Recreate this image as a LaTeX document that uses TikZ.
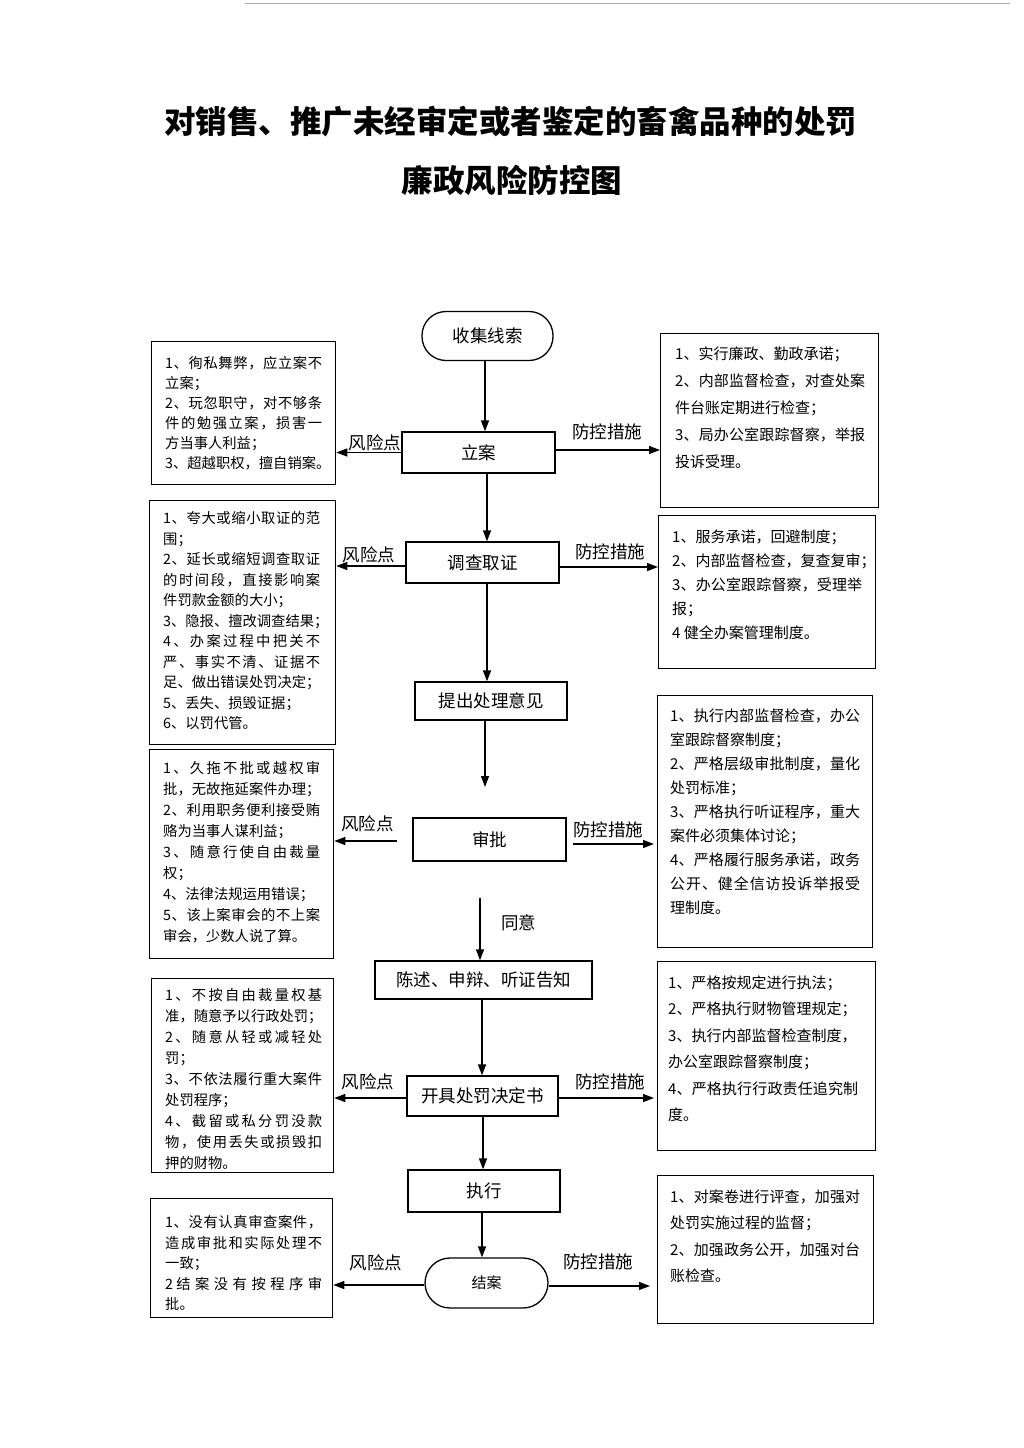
\documentclass[tikz,border=0pt]{standalone}
\usepackage{fontspec}
\setmainfont{Noto Sans CJK SC}
\usetikzlibrary{arrows.meta}
\newcount\cjkcnt
\cjkcnt="4E00
\loop
  \XeTeXcharclass\cjkcnt=1
  \advance\cjkcnt by 1
\ifnum\cjkcnt<"A000 \repeat
\XeTeXcharclass"3001=3
\XeTeXcharclass"3002=3
\XeTeXcharclass"FF0C=3
\XeTeXcharclass"FF1B=3
\XeTeXcharclass"FF1A=3
\XeTeXinterchartoks 1 1 = {\hskip 0pt plus 1fil}
\XeTeXinterchartoks 1 3 = {\hskip 0pt plus 1fil}
\XeTeXinterchartoks 3 1 = {\hskip 0pt plus 1fil}
\XeTeXinterchartoks 3 3 = {\hskip 0pt plus 1fil}
\XeTeXinterchartoks 0 1 = {\hskip 0pt plus 1fil}
\XeTeXinterchartoks 0 3 = {\hskip 0pt plus 1fil}
\newcommand\jlft[1]{\makebox[157pt][s]{\XeTeXinterchartokenstate=1 #1}}
\newcommand\jrgt[1]{\makebox[190pt][s]{\XeTeXinterchartokenstate=1 #1}}
\tikzset{
  box/.style={draw, line width=1.3pt, inner sep=0pt, anchor=north west},
  ltext/.style={anchor=north west, inner sep=0pt, align=left, font=\fontsize{14.3}{#1}\selectfont},
  rtext/.style={anchor=north west, inner sep=0pt, align=left, font=\fontsize{15}{#1}\selectfont},
  flow/.style={draw, line width=1.3pt, inner sep=0pt, font=\fontsize{17.5}{20}\selectfont},
  arr/.style={line width=1.3pt, -{Triangle[length=11pt,width=8pt]}},
  lbl/.style={inner sep=0pt, font=\fontsize{17.5}{20}\selectfont},
  ttl/.style={inner sep=0pt, font=\fontsize{31.5}{34}\selectfont\bfseries}
}
\begin{document}
\begin{tikzpicture}[x=1pt,y=-1pt]
\useasboundingbox[fill=white] (0,0) rectangle (1024,1448);
\draw[gray!70, line width=1pt] (245,3) -- (1010,3);

% title
\node[ttl] (t1) at (510.5,122) {对销售、推广未经审定或者鉴定的畜禽品种的处罚};
\node[ttl] (t2) at (512,180) {廉政风险防控图};

% flow nodes
\node[flow, minimum width=131, minimum height=49, rounded corners=24pt] (sj) at (487.5,336) {收集线索};
\node[flow, minimum width=153, minimum height=41] (la) at (478.5,452.5) {立案};
\node[flow, minimum width=153, minimum height=41] (dc) at (482.5,562.5) {调查取证};
\node[flow, minimum width=152, minimum height=38] (tc) at (491,701) {提出处理意见};
\node[flow, minimum width=153, minimum height=43] (sp) at (489.5,839.5) {审批};
\node[flow, minimum width=217, minimum height=38] (cs) at (483.5,980) {陈述、申辩、听证告知};
\node[flow, minimum width=151, minimum height=40] (kj) at (482.5,1096) {开具处罚决定书};
\node[flow, minimum width=152, minimum height=42] (zx) at (484,1191) {执行};
\node[flow, minimum width=123, minimum height=50, rounded corners=25pt, font=\fontsize{15}{18}\selectfont] (ja) at (486.5,1283) {结案};

% side boxes
\node[box, minimum width=184, minimum height=143] (lb1) at (151,341) {};
\node[box, minimum width=218, minimum height=174] (rb1) at (660,333) {};
\node[box, minimum width=186, minimum height=244] (lb2) at (149,500) {};
\node[box, minimum width=217, minimum height=153] (rb2) at (658,515) {};
\node[box, minimum width=184, minimum height=209] (lb3) at (149,749) {};
\node[box, minimum width=215, minimum height=252] (rb3) at (657,695) {};
\node[box, minimum width=182, minimum height=194] (lb4) at (151,978) {};
\node[box, minimum width=218, minimum height=189] (rb4) at (657,961) {};
\node[box, minimum width=182, minimum height=119] (lb5) at (150,1198) {};
\node[box, minimum width=216, minimum height=148] (rb5) at (657,1175) {};

% box texts
\node[ltext=20] (lb1t) at (165,356.4) {\jlft{1、徇私舞弊，应立案不}\\立案；\\\jlft{2、玩忽职守，对不够条}\\\jlft{件的勉强立案，损害一}\\方当事人利益；\\3、超越职权，擅自销案。};
\node[rtext=27] (rb1t) at (675,346.1) {1、实行廉政、勤政承诺；\\\jrgt{2、内部监督检查，对查处案}\\件台账定期进行检查；\\\jrgt{3、局办公室跟踪督察，举报}\\投诉受理。};
\node[ltext=20.5] (lb2t) at (163,511.4) {\jlft{1、夸大或缩小取证的范}\\围；\\\jlft{2、延长或缩短调查取证}\\\jlft{的时间段，直接影响案}\\件罚款金额的大小；\\3、隐报、擅改调查结果；\\\jlft{4、办案过程中把关不}\\\jlft{严、事实不清、证据不}\\足、做出错误处罚决定；\\5、丢失、损毁证据；\\6、以罚代管。};
\node[rtext=24] (rb2t) at (672,530.1) {1、服务承诺，回避制度；\\2、内部监督检查，复查复审；\\\jrgt{3、办公室跟踪督察，受理举}\\报；\\4 健全办案管理制度。};
\node[ltext=21] (lb3t) at (163,761.4) {\jlft{1、久拖不批或越权审}\\批，无故拖延案件办理；\\\jlft{2、利用职务便利接受贿}\\赂为当事人谋利益；\\\jlft{3、随意行使自由裁量}\\权；\\4、法律法规运用错误；\\\jlft{5、该上案审会的不上案}\\审会，少数人说了算。};
\node[rtext=24] (rb3t) at (670,708.1) {\jrgt{1、执行内部监督检查，办公}\\室跟踪督察制度；\\\jrgt{2、严格层级审批制度，量化}\\处罚标准；\\\jrgt{3、严格执行听证程序，重大}\\案件必须集体讨论；\\\jrgt{4、严格履行服务承诺，政务}\\\jrgt{公开、健全信访投诉举报受}\\理制度。};
\node[ltext=21] (lb4t) at (165,988.4) {\jlft{1、不按自由裁量权基}\\准，随意予以行政处罚；\\\jlft{2、随意从轻或减轻处}\\罚；\\\jlft{3、不依法履行重大案件}\\处罚程序；\\\jlft{4、截留或私分罚没款}\\\jlft{物，使用丢失或损毁扣}\\押的财物。};
\node[rtext=26.5] (rb4t) at (668,975.1) {1、严格按规定进行执法；\\2、严格执行财物管理规定；\\3、执行内部监督检查制度，\\办公室跟踪督察制度；\\\jrgt{4、严格执行行政责任追究制}\\度。};
\node[ltext=20.5] (lb5t) at (165,1215.4) {\jlft{1、没有认真审查案件，}\\\jlft{造成审批和实际处理不}\\一致；\\\jlft{2 结案没有按程序审}\\批。};
\node[rtext=26.5] (rb5t) at (670,1189.1) {\jrgt{1、对案卷进行评查，加强对}\\处罚实施过程的监督；\\\jrgt{2、加强政务公开，加强对台}\\账检查。};

% spine coordinates
\coordinate (s1) at (485,0);
\coordinate (s2) at (487,0);
\coordinate (s3) at (482,0);
\coordinate (s4) at (483,0);
\coordinate (tz) at (485,787);
\coordinate (ty) at (480,898);
\coordinate (spl) at (397,841);
\coordinate (spr) at (573,844);

% vertical arrows
\draw[arr] (sj.south -| s1) -- (la.north -| s1);
\draw[arr] (la.south -| s2) -- (dc.north -| s2);
\draw[arr] (dc.south -| s2) -- (tc.north -| s2);
\draw[arr] (tc.south -| tz) -- (tz);
\draw[arr] (ty) -- (ty |- cs.north);
\draw[arr] (cs.south -| s3) -- (kj.north -| s3);
\draw[arr] (kj.south -| s4) -- (zx.north -| s4);
\draw[arr] (zx.south -| s3) -- (ja.north -| s3);

% horizontal arrows
\draw[arr] (la.west) -- (la.west -| lb1.east);
\draw[arr] ([yshift=2.5pt]la.east) -- ([yshift=2.5pt]la.east -| rb1.west);
\draw[arr] ([yshift=-3.5pt]dc.west) -- ([yshift=-3.5pt]dc.west -| lb2.east);
\draw[arr] ([yshift=-4.5pt]dc.east) -- ([yshift=-4.5pt]dc.east -| rb2.west);
\draw[arr] (spl) -- (spl -| lb3.east);
\draw[arr, shorten >=3pt] (spr) -- (spr -| rb3.west);
\draw[arr] ([yshift=-2pt]kj.west) -- ([yshift=-2pt]kj.west -| lb4.east);
\draw[arr, shorten >=3pt] ([yshift=-2pt]kj.east) -- ([yshift=-2pt]kj.east -| rb4.west);
\draw[arr] ([yshift=-2pt]ja.west) -- ([yshift=-2pt]ja.west -| lb5.east);
\draw[arr, shorten >=7pt] ([yshift=-3pt]ja.east) -- ([yshift=-3pt]ja.east -| rb5.west);

% labels
\node[lbl] (r1) at (375,443) {风险点};
\node[lbl] (f1) at (607,432) {防控措施};
\node[lbl] (r2) at (369,555) {风险点};
\node[lbl] (f2) at (610,552) {防控措施};
\node[lbl] (r3) at (367.5,824) {风险点};
\node[lbl] (f3) at (608,830) {防控措施};
\node[lbl] (ty1) at (518.5,923) {同意};
\node[lbl] (r4) at (368,1082) {风险点};
\node[lbl] (f4) at (610,1082) {防控措施};
\node[lbl] (r5) at (376,1263) {风险点};
\node[lbl] (f5) at (598,1262) {防控措施};
\end{tikzpicture}
\end{document}
